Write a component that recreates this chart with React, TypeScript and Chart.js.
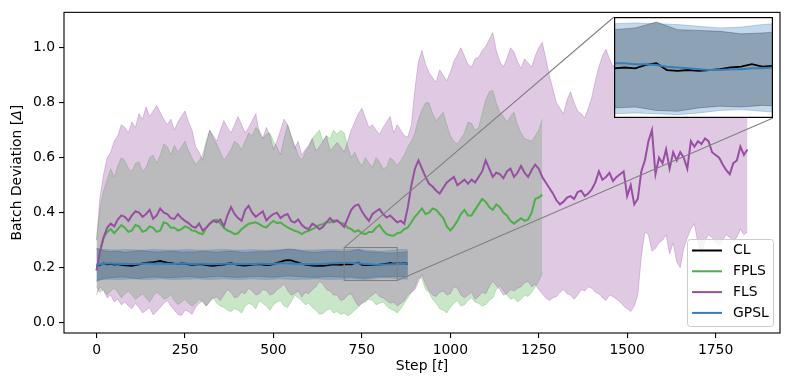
import React, { useEffect, useRef } from "react";
import { Chart, registerables } from "chart.js";
Chart.register(...registerables);

// sampling intervals (in steps) of the arrays below
const COARSE_STEP = 20;
const FINE_STEP = 10;

// FLS (purple), steps 0..1840 every 10
const FLS_MEAN = [
  0.19, 0.26, 0.31, 0.345, 0.36, 0.35, 0.375, 0.39, 0.385, 0.37,
  0.39, 0.405, 0.40, 0.385, 0.395, 0.41, 0.378, 0.39, 0.415, 0.40,
  0.395, 0.38, 0.377, 0.395, 0.38, 0.37, 0.362, 0.35, 0.345, 0.36,
  0.335, 0.345, 0.36, 0.37, 0.365, 0.375, 0.35, 0.39, 0.42, 0.395,
  0.38, 0.37, 0.41, 0.425, 0.40, 0.385, 0.395, 0.405, 0.372, 0.385,
  0.395, 0.40, 0.38, 0.39, 0.395, 0.37, 0.364, 0.375, 0.356, 0.345,
  0.34, 0.36, 0.352, 0.34, 0.348, 0.365, 0.38, 0.365, 0.372, 0.36,
  0.348, 0.38, 0.41, 0.425, 0.43, 0.405, 0.385, 0.37, 0.395, 0.405,
  0.413, 0.395, 0.382, 0.39, 0.377, 0.365, 0.37, 0.36, 0.42, 0.50,
  0.56, 0.59, 0.56, 0.53, 0.505, 0.495, 0.48, 0.47, 0.49, 0.51,
  0.52, 0.53, 0.50, 0.51, 0.52, 0.505, 0.52, 0.51, 0.53, 0.55,
  0.59, 0.56, 0.53, 0.545, 0.54, 0.525, 0.55, 0.56, 0.53, 0.545,
  0.57, 0.545, 0.53, 0.555, 0.575, 0.56, 0.53, 0.51, 0.49, 0.47,
  0.445, 0.43, 0.44, 0.455, 0.46, 0.45, 0.475, 0.48, 0.46, 0.47,
  0.485, 0.51, 0.55, 0.52, 0.53, 0.545, 0.515, 0.53, 0.54, 0.55,
  0.46, 0.50, 0.43, 0.45, 0.55, 0.59, 0.66, 0.70, 0.54, 0.60,
  0.58, 0.63, 0.56, 0.62, 0.59, 0.62, 0.60, 0.56, 0.66, 0.64,
  0.66, 0.65, 0.67, 0.66, 0.62, 0.61, 0.60, 0.575, 0.555, 0.54,
  0.58, 0.59, 0.64, 0.61, 0.63,
];
const FLS_UPPER = [
  0.30, 0.46, 0.54, 0.60, 0.62, 0.66, 0.68, 0.72, 0.71, 0.69,
  0.73, 0.71, 0.76, 0.74, 0.785, 0.75, 0.77, 0.79, 0.765, 0.74,
  0.72, 0.74, 0.70, 0.73, 0.75, 0.77, 0.73, 0.70, 0.64, 0.62,
  0.59, 0.65, 0.70, 0.68, 0.66, 0.70, 0.735, 0.71, 0.69, 0.72,
  0.75, 0.72, 0.69, 0.71, 0.735, 0.76, 0.69, 0.67, 0.71, 0.68,
  0.63, 0.66, 0.70, 0.74, 0.72, 0.68, 0.635, 0.66, 0.61, 0.63,
  0.645, 0.67, 0.625, 0.64, 0.66, 0.68, 0.625, 0.64, 0.655, 0.64,
  0.62, 0.66, 0.70, 0.73, 0.76, 0.78, 0.745, 0.71, 0.72, 0.70,
  0.685, 0.71, 0.73, 0.75, 0.69, 0.72, 0.70, 0.68, 0.675, 0.72,
  0.85, 0.95, 0.99, 0.94, 0.91, 0.89, 0.875, 0.92, 0.90, 0.88,
  0.91, 0.95, 0.975, 1.0, 0.97, 0.94, 0.93, 0.96, 0.965, 0.99,
  1.005, 1.03, 1.055, 0.99, 0.95, 0.93, 0.96, 1.0, 0.985, 0.95,
  0.925, 0.96, 0.945, 0.93, 0.97, 1.0, 1.02, 0.96, 0.90, 0.85,
  0.80, 0.78, 0.76, 0.81, 0.84, 0.80, 0.77, 0.76, 0.745, 0.78,
  0.82, 0.88, 0.93, 0.97, 0.995, 0.96, 0.93, 0.95, 0.96, 0.92,
  0.90, 0.92, 0.88, 0.90, 0.93, 0.97, 1.0, 0.98, 0.95, 0.96,
  0.97, 0.95, 0.92, 0.94, 0.96, 0.99, 1.0, 1.02, 1.04, 1.0,
  0.98, 0.99, 1.01, 0.97, 0.95, 0.96, 0.93, 0.91, 0.90, 0.92,
  0.94, 0.97, 0.98, 0.95, 0.96,
];
const FLS_LOWER = [
  0.10, 0.13, 0.115, 0.09, 0.10, 0.075, 0.085, 0.065, 0.075, 0.06,
  0.05, 0.07, 0.055, 0.035, 0.045, 0.055, 0.028, 0.04, 0.055, 0.07,
  0.08, 0.06, 0.045, 0.03, 0.026, 0.045, 0.04, 0.03, 0.056, 0.07,
  0.08, 0.06, 0.075, 0.09, 0.093, 0.08, 0.10, 0.12, 0.11, 0.09,
  0.095, 0.11, 0.105, 0.125, 0.115, 0.10, 0.105, 0.12, 0.117, 0.10,
  0.105, 0.12, 0.128, 0.14, 0.117, 0.10, 0.105, 0.115, 0.093, 0.11,
  0.105, 0.12, 0.13, 0.15, 0.14, 0.12, 0.115, 0.10, 0.10, 0.08,
  0.085, 0.10, 0.105, 0.08, 0.06, 0.07, 0.08, 0.09, 0.10, 0.11,
  0.095, 0.09, 0.08, 0.07, 0.075, 0.06, 0.07, 0.08, 0.10, 0.11,
  0.12, 0.15, 0.175, 0.14, 0.115, 0.10, 0.095, 0.11, 0.115, 0.10,
  0.105, 0.13, 0.125, 0.10, 0.09, 0.10, 0.11, 0.085, 0.095, 0.11,
  0.105, 0.13, 0.15, 0.135, 0.12, 0.10, 0.105, 0.12, 0.115, 0.125,
  0.13, 0.145, 0.15, 0.13, 0.14, 0.12, 0.105, 0.09, 0.08, 0.09,
  0.095, 0.11, 0.12, 0.105, 0.10, 0.085, 0.10, 0.12, 0.115, 0.13,
  0.125, 0.11, 0.105, 0.09, 0.08, 0.10, 0.095, 0.085, 0.075, 0.06,
  0.05, 0.04, 0.06, 0.10, 0.24, 0.33, 0.32, 0.26, 0.27, 0.29,
  0.30, 0.32, 0.25, 0.29, 0.22, 0.20, 0.27, 0.31, 0.34, 0.36,
  0.29, 0.25, 0.30, 0.32, 0.31, 0.29, 0.28, 0.30, 0.32, 0.31,
  0.30, 0.31, 0.34, 0.32, 0.33,
];

// FPLS (green), steps 0..1260 every 10
const FPLS_MEAN = [
  0.19, 0.26, 0.31, 0.33, 0.34, 0.325, 0.34, 0.355, 0.345, 0.33,
  0.335, 0.355, 0.35, 0.33, 0.335, 0.35, 0.345, 0.33, 0.335, 0.365,
  0.36, 0.345, 0.345, 0.335, 0.34, 0.35, 0.345, 0.335, 0.333, 0.325,
  0.322, 0.345, 0.36, 0.372, 0.375, 0.36, 0.345, 0.335, 0.33, 0.322,
  0.325, 0.34, 0.35, 0.36, 0.362, 0.365, 0.358, 0.35, 0.346, 0.36,
  0.37, 0.362, 0.364, 0.355, 0.346, 0.34, 0.334, 0.33, 0.322, 0.33,
  0.334, 0.34, 0.346, 0.355, 0.358, 0.366, 0.364, 0.372, 0.37, 0.362,
  0.36, 0.345, 0.34, 0.33, 0.336, 0.325, 0.322, 0.33, 0.33, 0.345,
  0.355, 0.335, 0.322, 0.318, 0.316, 0.325, 0.328, 0.34, 0.346, 0.365,
  0.385, 0.40, 0.415, 0.395, 0.40, 0.415, 0.41, 0.395, 0.38, 0.35,
  0.335, 0.35, 0.37, 0.395, 0.41, 0.39, 0.39, 0.41, 0.43, 0.45,
  0.44, 0.42, 0.41, 0.43, 0.42, 0.40, 0.39, 0.37, 0.36, 0.37,
  0.38, 0.37, 0.375, 0.40, 0.45, 0.455, 0.465,
];
const FPLS_UPPER = [
  0.30, 0.42, 0.48, 0.52, 0.56, 0.53, 0.57, 0.60, 0.59, 0.56,
  0.55, 0.58, 0.585, 0.55, 0.565, 0.60, 0.61, 0.58, 0.61, 0.65,
  0.64, 0.61, 0.645, 0.62, 0.64, 0.66, 0.625, 0.60, 0.575, 0.59,
  0.61, 0.66, 0.70, 0.67, 0.65, 0.62, 0.59, 0.61, 0.63, 0.66,
  0.65, 0.63, 0.66, 0.69, 0.68, 0.71, 0.70, 0.67, 0.685, 0.69,
  0.66, 0.64, 0.61, 0.67, 0.72, 0.68, 0.645, 0.61, 0.59, 0.62,
  0.64, 0.67, 0.685, 0.70, 0.66, 0.68, 0.67, 0.70, 0.685, 0.70,
  0.69, 0.64, 0.60, 0.62, 0.59, 0.57, 0.60, 0.58, 0.565, 0.60,
  0.585, 0.56, 0.565, 0.60, 0.59, 0.57, 0.59, 0.61, 0.64, 0.66,
  0.69, 0.74, 0.775, 0.80, 0.80, 0.76, 0.735, 0.75, 0.765, 0.72,
  0.68, 0.66, 0.65, 0.67, 0.69, 0.73, 0.725, 0.70, 0.71, 0.76,
  0.81, 0.84, 0.845, 0.80, 0.765, 0.75, 0.73, 0.75, 0.765, 0.72,
  0.69, 0.67, 0.665, 0.66, 0.68, 0.70, 0.74,
];
const FPLS_LOWER = [
  0.13, 0.11, 0.12, 0.10, 0.115, 0.125, 0.11, 0.09, 0.105, 0.115,
  0.10, 0.085, 0.095, 0.105, 0.09, 0.075, 0.095, 0.11, 0.10, 0.085,
  0.09, 0.10, 0.08, 0.065, 0.075, 0.085, 0.07, 0.06, 0.07, 0.085,
  0.075, 0.06, 0.08, 0.09, 0.07, 0.06, 0.055, 0.045, 0.04, 0.05,
  0.045, 0.035, 0.06, 0.07, 0.065, 0.05, 0.08, 0.07, 0.06, 0.045,
  0.065, 0.075, 0.08, 0.06, 0.055, 0.075, 0.10, 0.09, 0.08, 0.065,
  0.07, 0.055, 0.045, 0.03, 0.033, 0.045, 0.05, 0.035, 0.04, 0.03,
  0.035, 0.025, 0.033, 0.045, 0.056, 0.07, 0.075, 0.085, 0.08, 0.065,
  0.07, 0.075, 0.06, 0.05, 0.045, 0.035, 0.05, 0.07, 0.09, 0.11,
  0.13, 0.165, 0.16, 0.12, 0.11, 0.085, 0.07, 0.05, 0.045, 0.035,
  0.055, 0.07, 0.08, 0.06, 0.065, 0.08, 0.09, 0.075, 0.07, 0.06,
  0.065, 0.08, 0.09, 0.12, 0.135, 0.115, 0.10, 0.085, 0.09, 0.075,
  0.085, 0.10, 0.095, 0.11, 0.13, 0.15, 0.18,
];

// CL (black) and GPSL (blue) means, steps 0..880 every 10
const CL_MEAN = [
  0.205, 0.21, 0.215, 0.212, 0.214, 0.211, 0.213, 0.21, 0.208, 0.207,
  0.206, 0.209, 0.212, 0.215, 0.217, 0.219, 0.22, 0.222, 0.224, 0.221,
  0.218, 0.216, 0.214, 0.213, 0.215, 0.214, 0.212, 0.21, 0.211, 0.213,
  0.212, 0.209, 0.207, 0.206, 0.208, 0.21, 0.211, 0.214, 0.216, 0.213,
  0.21, 0.208, 0.207, 0.209, 0.211, 0.212, 0.213, 0.211, 0.209, 0.21,
  0.213, 0.217, 0.221, 0.225, 0.227, 0.226, 0.222, 0.218, 0.214, 0.211,
  0.209, 0.207, 0.206, 0.207, 0.206, 0.208, 0.21, 0.212, 0.211, 0.21,
  0.212, 0.213, 0.212, 0.216, 0.218, 0.21, 0.209, 0.21, 0.209, 0.21,
  0.211, 0.213, 0.214, 0.217, 0.214, 0.215, 0.214, 0.215, 0.214,
];
const GPSL_MEAN = [
  0.208, 0.212, 0.214, 0.215, 0.215, 0.214, 0.214, 0.213, 0.214, 0.213,
  0.213, 0.213, 0.214, 0.214, 0.215, 0.215, 0.214, 0.214, 0.215, 0.214,
  0.214, 0.213, 0.213, 0.214, 0.214, 0.215, 0.214, 0.213, 0.213, 0.214,
  0.214, 0.213, 0.212, 0.212, 0.213, 0.213, 0.214, 0.214, 0.214, 0.213,
  0.213, 0.212, 0.212, 0.213, 0.213, 0.213, 0.214, 0.214, 0.213, 0.213,
  0.214, 0.215, 0.216, 0.216, 0.215, 0.215, 0.214, 0.214, 0.213, 0.213,
  0.212, 0.212, 0.212, 0.213, 0.213, 0.214, 0.215, 0.216, 0.216, 0.217,
  0.218, 0.218, 0.217, 0.217, 0.216, 0.214, 0.213, 0.212, 0.211, 0.21,
  0.21, 0.211, 0.211, 0.212, 0.212, 0.213, 0.213, 0.213, 0.214,
];

// CL / GPSL bands, steps 0..880 every 20
const CL_UPPER = [
  0.27, 0.262, 0.258, 0.26, 0.256, 0.259, 0.262, 0.26, 0.258, 0.257,
  0.259, 0.26, 0.256, 0.258, 0.257, 0.26, 0.258, 0.256, 0.259, 0.26,
  0.257, 0.255, 0.257, 0.259, 0.258, 0.26, 0.263, 0.268, 0.266, 0.26,
  0.257, 0.256, 0.258, 0.26, 0.259, 0.258, 0.26, 0.267, 0.258, 0.257,
  0.256, 0.253, 0.254, 0.256, 0.258,
];
const CL_LOWER = [
  0.15, 0.16, 0.163, 0.165, 0.166, 0.162, 0.16, 0.164, 0.166, 0.165,
  0.163, 0.164, 0.166, 0.167, 0.165, 0.164, 0.166, 0.168, 0.167, 0.165,
  0.164, 0.166, 0.167, 0.168, 0.166, 0.165, 0.167, 0.169, 0.168, 0.166,
  0.165, 0.164, 0.166, 0.167, 0.166, 0.165, 0.166, 0.162, 0.161, 0.165,
  0.167, 0.166, 0.168, 0.167, 0.166,
];
const GPSL_UPPER = [
  0.268, 0.266, 0.265, 0.264, 0.266, 0.265, 0.263, 0.264, 0.266, 0.265,
  0.264, 0.263, 0.265, 0.266, 0.264, 0.263, 0.264, 0.265, 0.266, 0.264,
  0.263, 0.264, 0.265, 0.264, 0.263, 0.264, 0.265, 0.266, 0.265, 0.264,
  0.263, 0.264, 0.265, 0.266, 0.265, 0.265, 0.266, 0.265, 0.264, 0.262,
  0.26, 0.261, 0.264, 0.266, 0.265,
];
const GPSL_LOWER = [
  0.155, 0.157, 0.158, 0.157, 0.158, 0.159, 0.158, 0.157, 0.158, 0.159,
  0.158, 0.157, 0.158, 0.158, 0.159, 0.158, 0.157, 0.158, 0.159, 0.158,
  0.157, 0.158, 0.159, 0.158, 0.157, 0.158, 0.159, 0.158, 0.157, 0.158,
  0.158, 0.159, 0.158, 0.157, 0.158, 0.158, 0.159, 0.158, 0.157, 0.159,
  0.162, 0.163, 0.161, 0.159, 0.158,
];

const X_TICKS = [0, 250, 500, 750, 1000, 1250, 1500, 1750];
const Y_TICKS = [0, 0.2, 0.4, 0.6, 0.8, 1.0];
const X_RANGE = [-92, 1932];
const Y_RANGE = [-0.038, 1.129];
const ZOOM_X = [700, 850];
const ZOOM_Y = [0.153, 0.273];
const SERIES_NAMES = ["CL", "FPLS", "FLS", "GPSL"];
const SERIES_COLORS = ["#000000", "#4daf4a", "#984ea3", "#377eb8"];
const SERIES_FILLS = [
  "rgba(0,0,0,0.3)",
  "rgba(77,175,74,0.3)",
  "rgba(152,78,163,0.3)",
  "rgba(55,126,184,0.3)",
];

const INSET = { left: 614, top: 17, width: 159, height: 101 };
const FONT = '"DejaVu Sans", sans-serif';
const FS = 13.9;

const pts = (arr: number[], step: number) => arr.map((y, i) => ({ x: i * step, y }));

function band(upper: number[], lower: number[], step: number, fill: string, order: number) {
  return [
    {
      data: pts(upper, step),
      borderColor: fill,
      backgroundColor: fill,
      borderWidth: 1,
      pointRadius: 0,
      fill: "+1",
      order,
    },
    {
      data: pts(lower, step),
      borderColor: fill,
      backgroundColor: fill,
      borderWidth: 1,
      pointRadius: 0,
      fill: false,
      order,
    },
  ];
}

function meanLine(arr: number[], step: number, color: string, order: number, width = 2) {
  return {
    data: pts(arr, step),
    borderColor: color,
    backgroundColor: color,
    borderWidth: width,
    pointRadius: 0,
    fill: false,
    order,
  };
}

function drawMixed(ctx: CanvasRenderingContext2D, parts: [string, boolean][], cx: number, cy: number) {
  let total = 0;
  const widths = parts.map(([t, it]) => {
    ctx.font = `${it ? "italic " : ""}${FS}px ${FONT}`;
    const w = ctx.measureText(t).width;
    total += w;
    return w;
  });
  let x = cx - total / 2;
  ctx.textAlign = "left";
  ctx.textBaseline = "middle";
  parts.forEach(([t, it], i) => {
    ctx.font = `${it ? "italic " : ""}${FS}px ${FONT}`;
    ctx.fillText(t, x, cy);
    x += widths[i];
  });
}

const mainOverlay = {
  id: "mainOverlay",
  afterDraw(chart: any) {
    const { ctx, chartArea: ca, scales } = chart;
    const xs = scales.x;
    const ys = scales.y;
    ctx.save();
    // frame
    ctx.strokeStyle = "#000";
    ctx.lineWidth = 1.1;
    ctx.strokeRect(ca.left, ca.top, ca.right - ca.left, ca.bottom - ca.top);
    // zoom rectangle + connectors
    const x1 = xs.getPixelForValue(ZOOM_X[0]);
    const x2 = xs.getPixelForValue(ZOOM_X[1]);
    const y1 = ys.getPixelForValue(ZOOM_Y[1]);
    const y2 = ys.getPixelForValue(ZOOM_Y[0]);
    ctx.strokeStyle = "#808080";
    ctx.lineWidth = 1.1;
    ctx.strokeRect(x1, y1, x2 - x1, y2 - y1);
    ctx.beginPath();
    ctx.moveTo(x1, y1);
    ctx.lineTo(INSET.left, INSET.top);
    ctx.moveTo(x2, y2);
    ctx.lineTo(INSET.left + INSET.width, INSET.top + INSET.height);
    ctx.stroke();
    // legend
    const lw = 86;
    const lh = 87;
    const lx = ca.right - 7 - lw;
    const ly = ca.bottom - 7 - lh;
    ctx.beginPath();
    (ctx as any).roundRect(lx + 0.5, ly + 0.5, lw, lh, 3);
    ctx.fillStyle = "rgba(255,255,255,0.8)";
    ctx.fill();
    ctx.strokeStyle = "#cccccc";
    ctx.lineWidth = 1;
    ctx.stroke();
    SERIES_NAMES.forEach((name, i) => {
      const cy = ly + 11.5 + i * 20.8;
      ctx.strokeStyle = SERIES_COLORS[i];
      ctx.lineWidth = 2;
      ctx.beginPath();
      ctx.moveTo(lx + 5, cy);
      ctx.lineTo(lx + 35, cy);
      ctx.stroke();
      ctx.fillStyle = "#000";
      ctx.font = `${FS}px ${FONT}`;
      ctx.textAlign = "left";
      ctx.textBaseline = "middle";
      ctx.fillText(name, lx + 46, cy);
    });
    // axis titles
    ctx.fillStyle = "#000";
    drawMixed(ctx, [["Step [", false], ["t", true], ["]", false]], (ca.left + ca.right) / 2, 366);
    ctx.translate(17, (ca.top + ca.bottom) / 2);
    ctx.rotate(-Math.PI / 2);
    drawMixed(ctx, [["Batch Deviation [", false], ["\u0394", true], ["]", false]], 0, 0);
    ctx.restore();
  },
};

const insetOverlay = {
  id: "insetOverlay",
  beforeDraw(chart: any) {
    const { ctx, width, height } = chart;
    ctx.save();
    ctx.fillStyle = "#fff";
    ctx.fillRect(0, 0, width, height);
    ctx.restore();
  },
  afterDraw(chart: any) {
    const { ctx, width, height } = chart;
    ctx.save();
    ctx.strokeStyle = "#000";
    ctx.lineWidth = 1.2;
    ctx.strokeRect(0.6, 0.6, width - 1.2, height - 1.2);
    ctx.restore();
  },
};

export default function App() {
  const mainRef = useRef<HTMLCanvasElement>(null);
  const insetRef = useRef<HTMLCanvasElement>(null);

  useEffect(() => {
    const tickFont = { family: FONT, size: FS };
    const main = new Chart(mainRef.current as HTMLCanvasElement, {
      type: "line",
      data: {
        datasets: [
          ...band(CL_UPPER, CL_LOWER, COARSE_STEP, SERIES_FILLS[0], 100),
          ...band(FPLS_UPPER, FPLS_LOWER, FINE_STEP, SERIES_FILLS[1], 90),
          ...band(FLS_UPPER, FLS_LOWER, FINE_STEP, SERIES_FILLS[2], 80),
          ...band(GPSL_UPPER, GPSL_LOWER, COARSE_STEP, SERIES_FILLS[3], 70),
          meanLine(CL_MEAN, FINE_STEP, SERIES_COLORS[0], 40, 1.8),
          meanLine(FPLS_MEAN, FINE_STEP, SERIES_COLORS[1], 30),
          meanLine(FLS_MEAN, FINE_STEP, SERIES_COLORS[2], 20),
          meanLine(GPSL_MEAN, FINE_STEP, SERIES_COLORS[3], 10),
        ] as any,
      },
      options: {
        animation: false,
        responsive: false,
        devicePixelRatio: 1,
        layout: { padding: { left: 0, right: 10, top: 10, bottom: 0 } },
        elements: { line: { tension: 0 } },
        plugins: { legend: { display: false }, tooltip: { enabled: false } },
        scales: {
          x: {
            type: "linear",
            min: X_RANGE[0],
            max: X_RANGE[1],
            afterBuildTicks: (s: any) => {
              s.ticks = X_TICKS.map((v) => ({ value: v }));
            },
            afterFit: (s: any) => {
              s.height = 57;
            },
            ticks: {
              autoSkip: false,
              maxRotation: 0,
              color: "#000",
              font: tickFont,
              padding: 4,
              callback: (v: any) => String(v),
            },
            grid: {
              display: true,
              drawOnChartArea: false,
              drawTicks: true,
              tickLength: 5,
              color: "#000",
              lineWidth: 1.1,
            },
            border: { display: false },
          },
          y: {
            type: "linear",
            min: Y_RANGE[0],
            max: Y_RANGE[1],
            afterBuildTicks: (s: any) => {
              s.ticks = Y_TICKS.map((v) => ({ value: v }));
            },
            afterFit: (s: any) => {
              s.width = 64;
            },
            ticks: {
              autoSkip: false,
              color: "#000",
              font: tickFont,
              padding: 4,
              callback: (v: any) => Number(v).toFixed(1),
            },
            grid: {
              display: true,
              drawOnChartArea: false,
              drawTicks: true,
              tickLength: 5,
              color: "#000",
              lineWidth: 1.1,
            },
            border: { display: false },
          },
        },
      } as any,
      plugins: [mainOverlay],
    });

    const inset = new Chart(insetRef.current as HTMLCanvasElement, {
      type: "line",
      data: {
        datasets: [
          ...band(CL_UPPER, CL_LOWER, COARSE_STEP, SERIES_FILLS[0], 100),
          ...band(GPSL_UPPER, GPSL_LOWER, COARSE_STEP, SERIES_FILLS[3], 70),
          meanLine(CL_MEAN, FINE_STEP, SERIES_COLORS[0], 40, 1.8),
          meanLine(GPSL_MEAN, FINE_STEP, SERIES_COLORS[3], 10),
        ] as any,
      },
      options: {
        animation: false,
        responsive: false,
        devicePixelRatio: 1,
        layout: { padding: 0 },
        elements: { line: { tension: 0 } },
        plugins: { legend: { display: false }, tooltip: { enabled: false } },
        scales: {
          x: { type: "linear", display: false, min: ZOOM_X[0], max: ZOOM_X[1] },
          y: { type: "linear", display: false, min: ZOOM_Y[0], max: ZOOM_Y[1] },
        },
      } as any,
      plugins: [insetOverlay],
    });

    return () => {
      main.destroy();
      inset.destroy();
    };
  }, []);

  return (
    <div style={{ position: "absolute", left: 0, top: 0, width: 790, height: 390, background: "#fff" }}>
      <canvas ref={mainRef} width={790} height={390} style={{ position: "absolute", left: 0, top: 0 }} />
      <canvas
        ref={insetRef}
        width={INSET.width}
        height={INSET.height}
        style={{ position: "absolute", left: INSET.left, top: INSET.top }}
      />
    </div>
  );
}
